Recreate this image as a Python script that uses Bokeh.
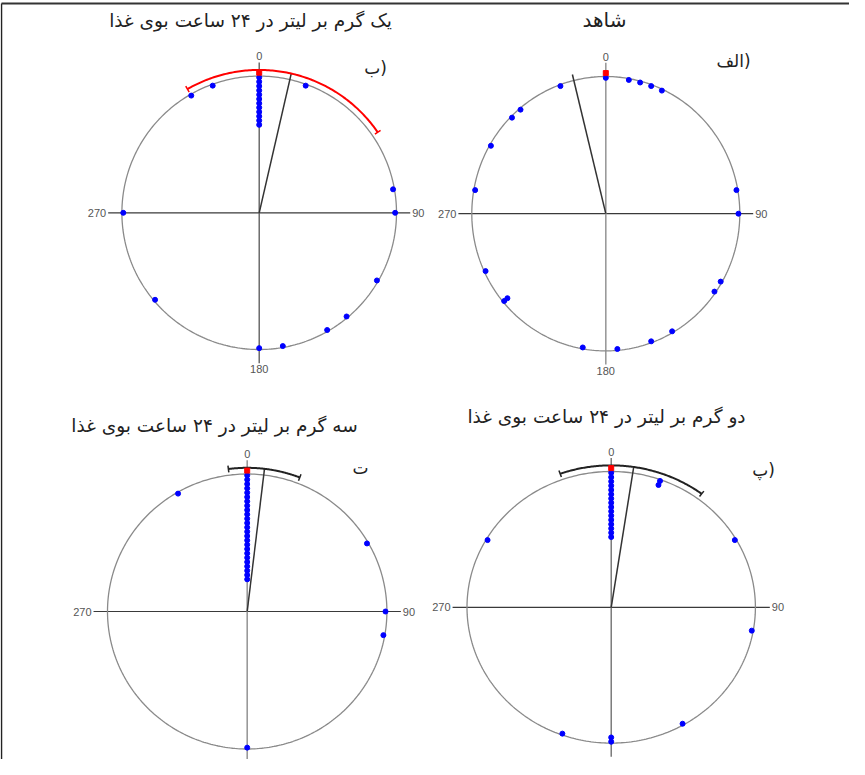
import numpy as np
from bokeh.plotting import figure
from bokeh.models import Range1d
from bokeh.embed import file_html
from bokeh.resources import INLINE
from bokeh.core.properties import value

# ---------------- data ----------------
titles = ["شاهد",
          "یک گرم بر لیتر در ۲۴ ساعت بوی غذا",
          "دو گرم بر لیتر در ۲۴ ساعت بوی غذا",
          "سه گرم بر لیتر در ۲۴ ساعت بوی غذا"]
panel_labels = ["الف)", "ب)", "پ)", "ت"]
tick_labels = ["0", "90", "180", "270"]

# observed directions (degrees, clockwise from 0 at top)
angles_a = [0, 10, 15, 20, 25, 80, 90, 120, 125, 150, 160, 175, 190,
            230, 230, 245, 280, 300, 315, 320, 340]
angles_b = [0, 0, 0, 0, 0, 0, 0, 0, 0, 0, 0, 0,
            20, 80, 90, 120, 140, 150, 170, 180, 230, 270, 330, 340]
angles_p = [0, 0, 0, 0, 0, 0, 0, 0, 0, 0, 0, 0, 0, 0, 0, 0,
            20, 20, 60, 100, 150, 180, 180, 200, 300]
angles_t = [0, 0, 0, 0, 0, 0, 0, 0, 0, 0, 0, 0, 0, 0, 0, 0, 0, 0, 0, 0,
            0, 0, 0, 0, 0, 60, 90, 100, 180, 330]
panel_angles = [angles_a, angles_b, angles_p, angles_t]

mean_dirs = [346.2, 12.9, 8.6, 6.8]
ci_low = [None, -30.0, -19.8, -7.4]
ci_high = [None, 55.7, 36.9, 21.1]
ci_colors = [None, "#ff0000", "#222222", "#222222"]

# ---------------- layout (page pixels) ----------------
W, H = 849, 759
X0, Y0 = 8, 8
panels = [
    dict(cx=613.3, cy=221.2, rx=134.0, ry=137.2, vcol="#9a9a9a", vw=1.6,
         title=(612, 27), tsize="20px", lab=(741, 68)),
    dict(cx=266.7, cy=220.3, rx=137.3, ry=136.7, vcol="#555555", vw=1.3,
         title=(258, 28), tsize="18.5px", lab=(383, 75)),
    dict(cx=618.7, cy=614.8, rx=144.2, ry=135.8, vcol="#666666", vw=1.3,
         title=(614, 424), tsize="18.5px", lab=(771, 477)),
    dict(cx=254.7, cy=619.0, rx=139.7, ry=137.5, vcol="#999999", vw=1.6,
         title=(222, 433), tsize="18.5px", lab=(368, 475)),
]

p = figure(width=W, height=H, output_backend="svg", toolbar_location=None,
           x_range=Range1d(X0, X0 + W), y_range=Range1d(Y0 + H, Y0),
           x_axis_location=None, y_axis_location=None, min_border=0)
p.grid.visible = False
p.outline_line_color = None
p.background_fill_color = "white"
p.border_fill_color = "white"

# page frame lines
p.line([9, 9], [11, Y0 + H], line_color="#222222", line_width=1.5)
p.line([9, X0 + W], [11, 11], line_color="#333333", line_width=2)


def pol(pn, theta, r):
    t = np.radians(np.asarray(theta, dtype=float))
    return pn["cx"] + r * pn["rx"] * np.sin(t), pn["cy"] - r * pn["ry"] * np.cos(t)


STEP = 0.0315
for k, pn in enumerate(panels):
    cx, cy, rx, ry = pn["cx"], pn["cy"], pn["rx"], pn["ry"]
    # axes lines
    p.line([cx - 1.1 * rx, cx + 1.1 * rx], [cy, cy], line_color="#3a3a3a", line_width=1.2)
    p.line([cx, cx], [cy - 1.1 * ry, cy + 1.1 * ry], line_color=pn["vcol"], line_width=pn["vw"])
    # circle
    th = np.linspace(0, 360, 361)
    xs, ys = pol(pn, th, 1.0)
    p.line(xs, ys, line_color="#8a8a8a", line_width=1.3)
    # tick labels
    tfont = value("Liberation Sans")
    p.text([cx], [cy - 1.1 * ry - 2], text=[tick_labels[0]], text_align="center",
           text_baseline="bottom", text_font=tfont, text_font_size="11px", text_color="#555555")
    p.text([cx + 1.1 * rx + 2], [cy], text=[tick_labels[1]], text_align="left",
           text_baseline="middle", text_font=tfont, text_font_size="11px", text_color="#555555")
    p.text([cx], [cy + 1.1 * ry + 2], text=[tick_labels[2]], text_align="center",
           text_baseline="top", text_font=tfont, text_font_size="11px", text_color="#555555")
    p.text([cx - 1.1 * rx - 2], [cy], text=[tick_labels[3]], text_align="right",
           text_baseline="middle", text_font=tfont, text_font_size="11px", text_color="#555555")
    # mean direction
    mx, my = pol(pn, [mean_dirs[k]], 1.045)
    p.line([cx, mx[0]], [cy, my[0]], line_color="#333333", line_width=1.5)
    # confidence arc
    if ci_low[k] is not None:
        th = np.linspace(ci_low[k], ci_high[k], 120)
        ax_, ay_ = pol(pn, th, 1.045)
        p.line(ax_, ay_, line_color=ci_colors[k], line_width=2)
        for e in (ci_low[k], ci_high[k]):
            ex, ey = pol(pn, [e, e], np.array([1.02, 1.07]))
            p.line(ex, ey, line_color=ci_colors[k], line_width=1.5)
    # stacked data points
    counts = {}
    rs = []
    for a in panel_angles[k]:
        n = counts.get(a, 0)
        counts[a] = n + 1
        rs.append(0.99 - STEP * n)
    dx, dy = pol(pn, panel_angles[k], np.array(rs))
    p.scatter(dx, dy, size=5, marker="circle", fill_color="#0000ff", line_color="#0000ff")
    # zero reference marker
    zx, zy = pol(pn, [0], 1.025)
    p.scatter(zx, zy, size=5, marker="square", fill_color="#ff0000", line_color="#ff0000")
    # titles and panel labels
    p.text([pn["title"][0]], [pn["title"][1]], text=[titles[k]], text_align="center",
           text_baseline="middle", text_font=value("DejaVu Sans"), text_font_size=pn["tsize"],
           text_color="#222222")
    p.text([pn["lab"][0]], [pn["lab"][1]], text=[panel_labels[k]], text_align="center",
           text_baseline="middle", text_font=value("DejaVu Sans"), text_font_size="17px",
           text_color="#222222")

open("out.html", "w").write(file_html(p, INLINE))
